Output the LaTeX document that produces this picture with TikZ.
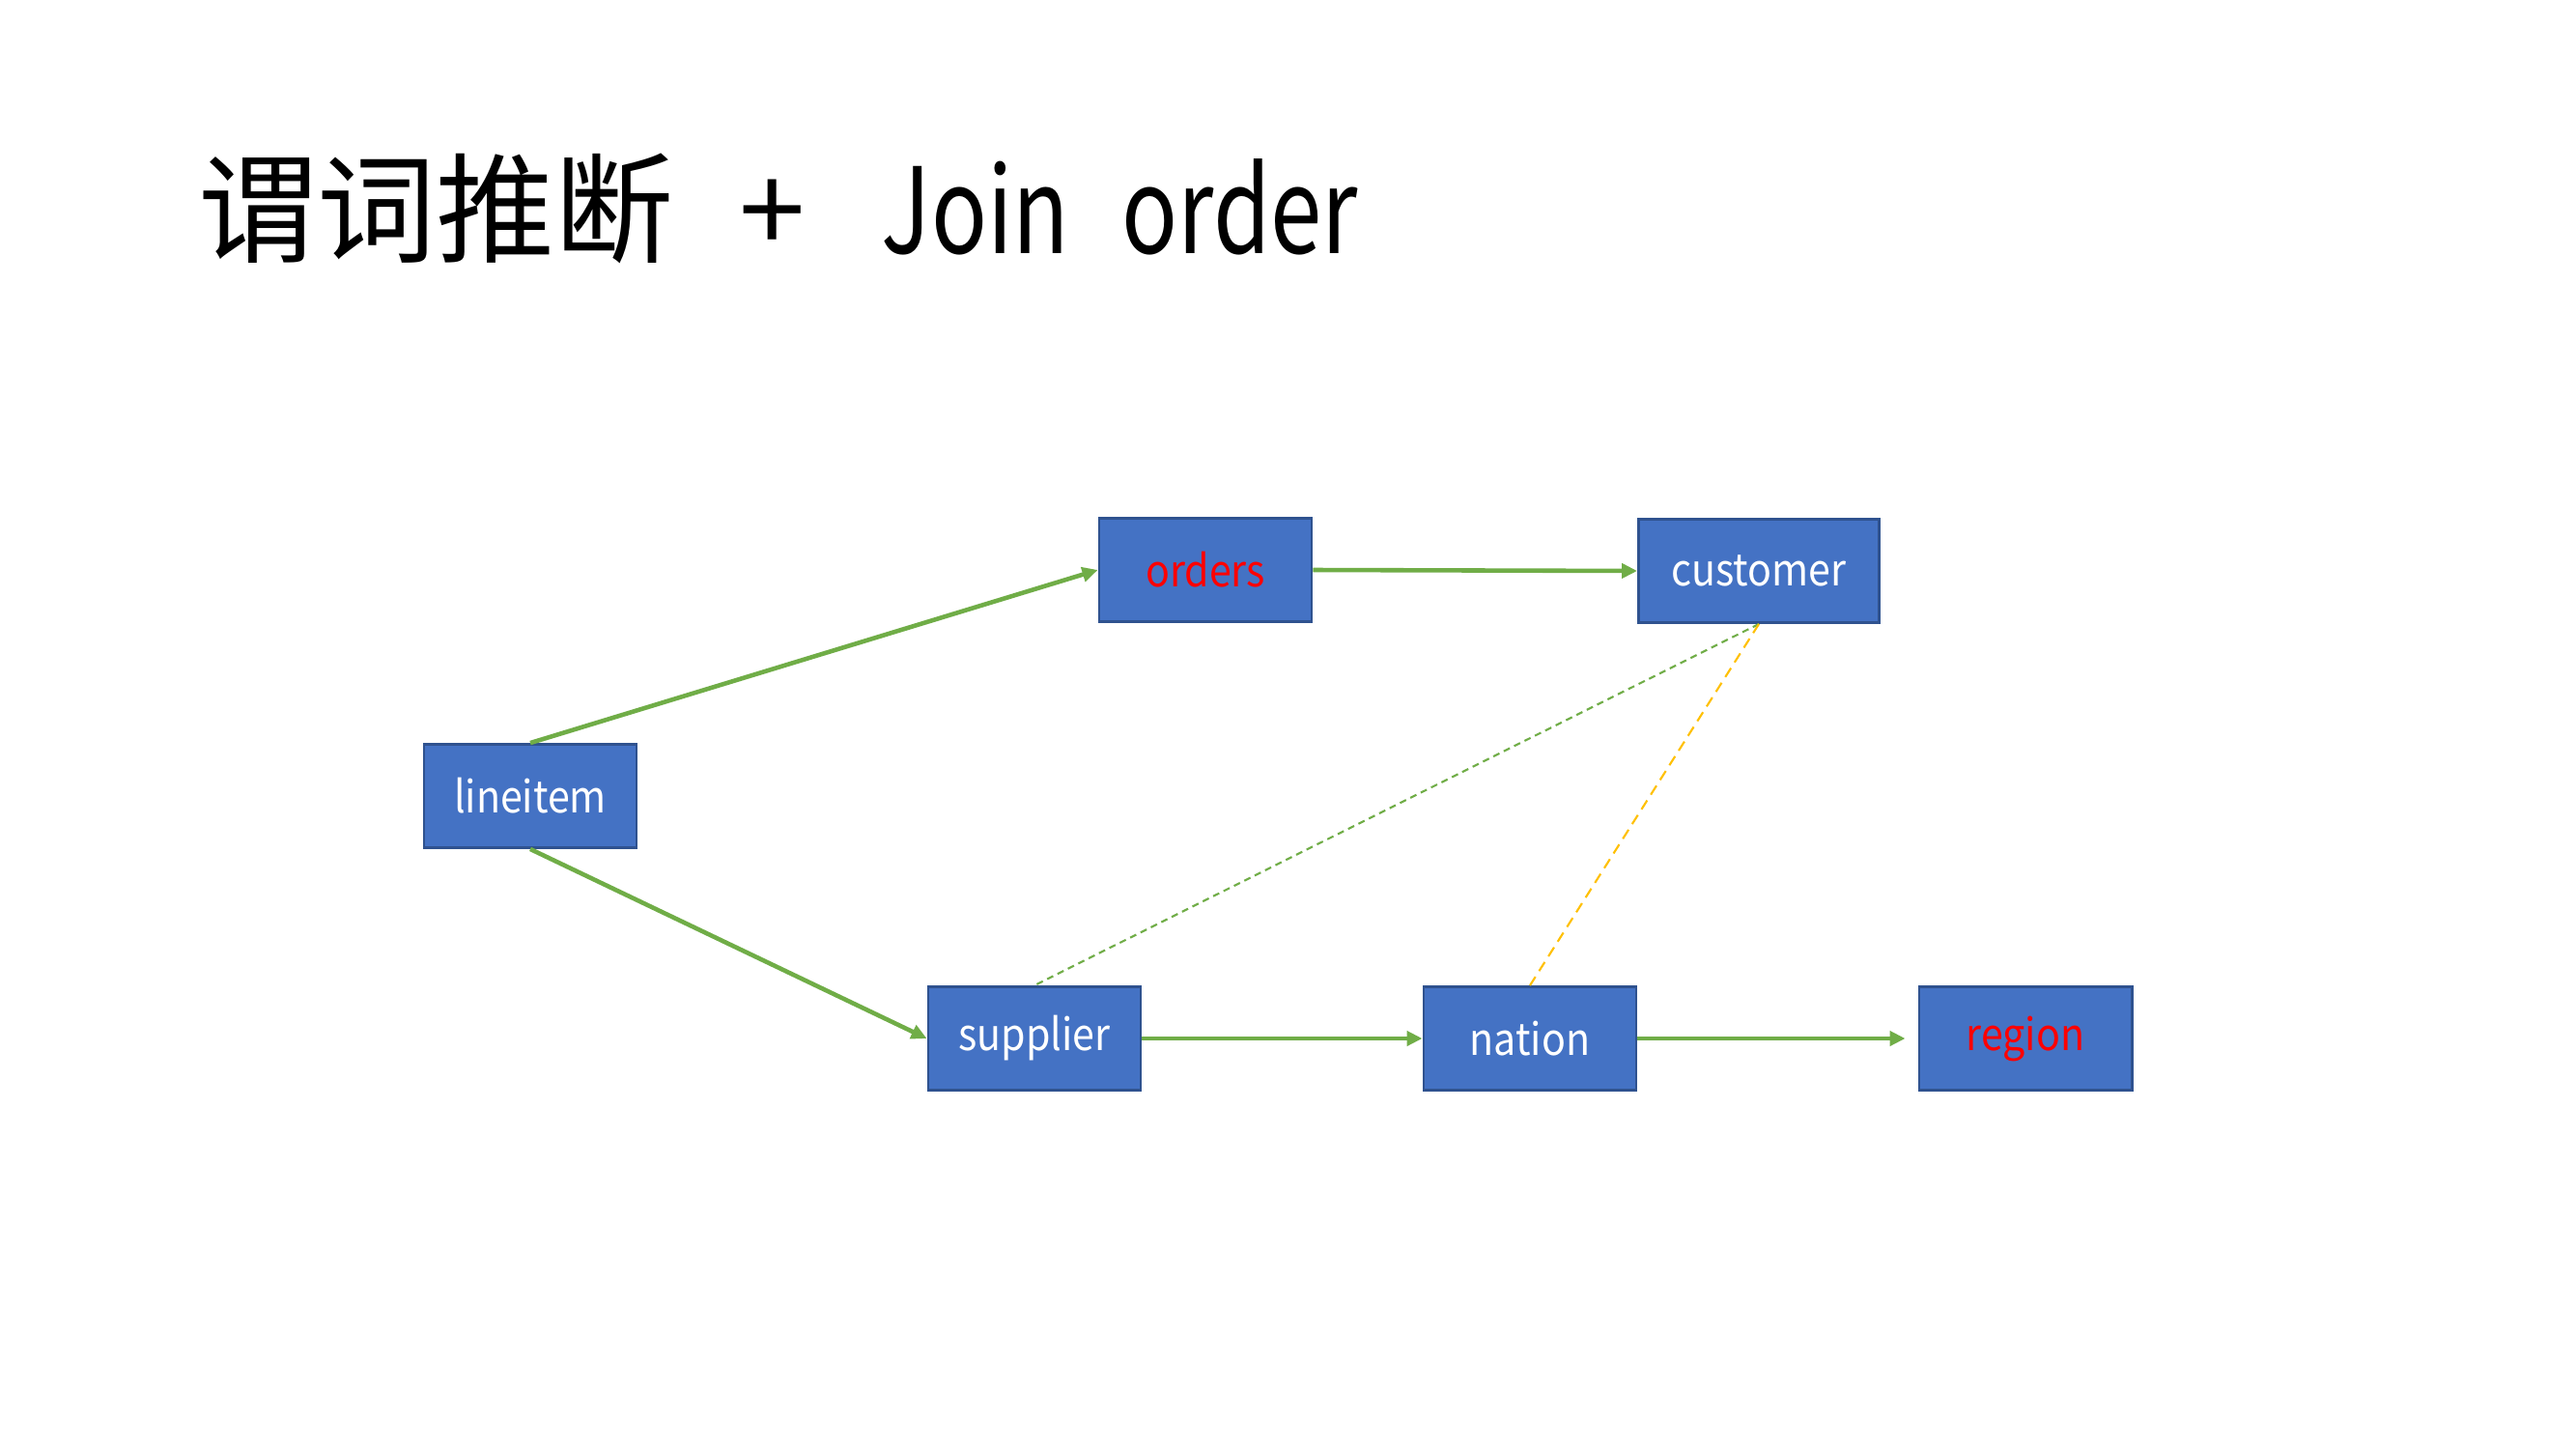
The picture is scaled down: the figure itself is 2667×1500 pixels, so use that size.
\documentclass[tikz,border=0pt]{standalone}
\usepackage{fontspec}
\setmainfont{Noto Sans CJK SC}
\newfontfamily\titlelatin{Noto Sans CJK SC}[FakeStretch=0.78]
\newfontfamily\labelfont{Noto Sans CJK SC}[FakeStretch=0.9]
\usetikzlibrary{arrows.meta}
\definecolor{boxfill}{HTML}{4472C4}
\definecolor{boxline}{HTML}{2F528F}
\definecolor{arrgreen}{HTML}{70AD47}
\definecolor{arrorange}{HTML}{FFC000}
\definecolor{redtxt}{HTML}{FF0000}
\begin{document}
\begin{tikzpicture}[x=0.01cm,y=-0.01cm,
  tbl/.style={draw=boxline,fill=boxfill,line width=0.8pt,minimum height=1.07cm,minimum width=2.2cm,inner sep=0pt,text=white,font=\labelfont\fontsize{13}{15}\selectfont},
  flow/.style={draw=arrgreen,line width=1.3pt,-{Triangle[length=1.6mm,width=1.5mm]}},
  gdash/.style={draw=arrgreen,line width=0.6pt,dash pattern=on 0.7mm off 0.5mm},
  odash/.style={draw=arrorange,line width=0.6pt,dash pattern=on 1.1mm off 0.7mm},
  ttl/.style={inner sep=0pt,font=\fontsize{35}{40}\selectfont}]
\useasboundingbox (0,0) rectangle (2667,1500);
\fill[white] (0,0) rectangle (2667,1500);
% title
\node[ttl,anchor=base west] (t1) at (205,262) {谓词推断};
\node[ttl,anchor=base] (t2) at (800,262) {+};
\node[ttl,anchor=base west] (t3) at (912,262) {\titlelatin Join\hspace{0.33cm} order};
% boxes
\node[tbl] (lineitem) at (549,824) {lineitem};
\node[tbl,text=redtxt] (orders) at (1248,590) {orders};
\node[tbl,minimum width=2.49cm] (customer) at (1821,591) {customer};
\node[tbl] (supplier) at (1071,1075) {supplier};
\node[tbl] (nation) at (1584,1075) {nation};
\node[tbl,text=redtxt] (region) at (2097,1075) {region};
% connectors
\draw[flow] (lineitem.north) -- (orders.west);
\draw[flow] (orders.east) -- (customer.west);
\draw[flow] (lineitem.south) -- (supplier.west);
\draw[flow] (supplier.east) -- (nation.west);
\coordinate (regin) at ([xshift=-0.13cm]region.west);
\draw[flow] (nation.east) -- (regin);
\draw[gdash] (customer.south) -- (supplier.north);
\draw[odash] (customer.south) -- (nation.north);
\end{tikzpicture}
\end{document}
